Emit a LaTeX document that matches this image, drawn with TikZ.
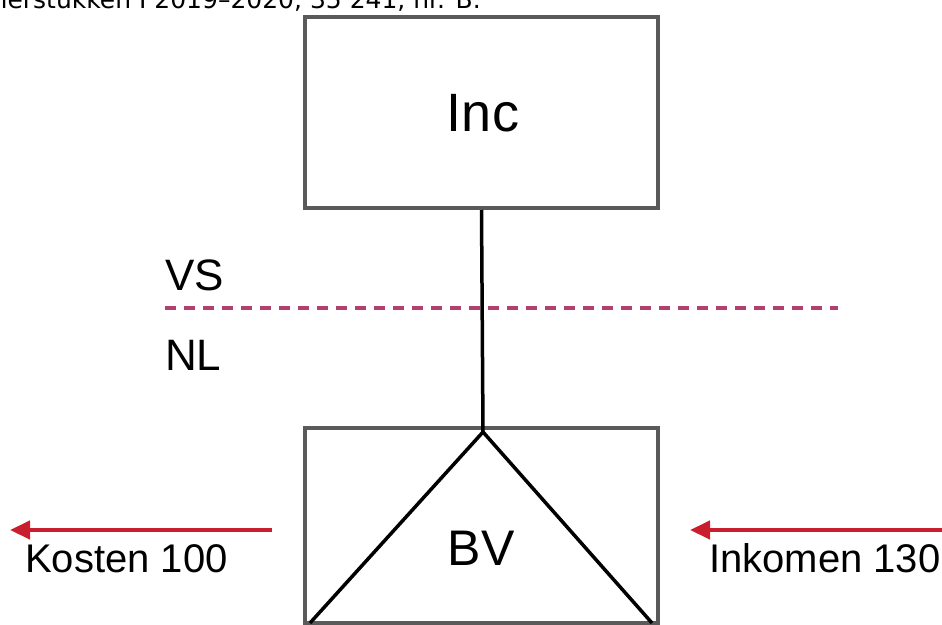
\documentclass[tikz,border=0pt]{standalone}
\usepackage{fontspec}
\setmainfont{Liberation Sans}
\newfontfamily\verd{DejaVu Sans}
\usetikzlibrary{arrows.meta}
\definecolor{boxgray}{HTML}{5A5A5A}
\definecolor{arrred}{HTML}{C81E2D}
\definecolor{dashpink}{HTML}{B0406E}
\begin{document}
\begin{tikzpicture}[x=1bp,y=-1bp,
  box/.style={draw=boxgray,line width=4bp,minimum width=353bp,inner sep=0pt},
  lbl/.style={inner sep=0pt,font=\fontsize{44bp}{50bp}\selectfont},
  side/.style={inner sep=0pt,font=\fontsize{40bp}{46bp}\selectfont},
  flow/.style={draw=arrred,line width=4.5bp,-{Triangle[length=20bp,width=18bp]}},
  link/.style={line width=3.5bp,black},
  border/.style={draw=dashpink,line width=3.5bp,dash pattern=on 11bp off 8bp}]
\useasboundingbox (0,0) rectangle (942,625);
\clip (0,0) rectangle (942,625);
% source line (cut off at the top)
\node[inner sep=0pt,anchor=base west,font=\verd\fontsize{25bp}{28bp}\selectfont] (src) at (-17,9) {merstukken I 2019–2020, 35 241, nr. B.};
% boxes
\node[box,minimum height=191bp] (inc) at (481.5,112.5) {};
\node[inner sep=0pt,anchor=base,font=\fontsize{54bp}{60bp}\selectfont] (inct) at (483,132) {Inc};
\node[box,minimum height=195bp] (bvbox) at (481.5,525.5) {};
% border line
\coordinate (dl) at (165,308);
\coordinate (dr) at (838,308);
\draw[border] (dl) -- (dr);
% triangle
\coordinate (apex) at (483,432);
\coordinate (bl) at (310,623);
\coordinate (br) at (652,623);
\draw[link,line join=miter] (bl) -- (apex) -- (br);
\draw[link] (inc.south) -- (apex);
\node[inner sep=0pt,anchor=base,font=\fontsize{50bp}{56bp}\selectfont] (bv) at (481,565) {BV};
% labels
\node[lbl,anchor=base west] (vs) at (165,290) {VS};
\node[lbl,anchor=base west] (nl) at (165,370) {NL};
% flows
\coordinate (ks) at (272,530);
\coordinate (ke) at (10,530);
\draw[flow] (ks) -- (ke);
\coordinate (is) at (946,530);
\coordinate (ie) at (690,530);
\draw[flow] (is) -- (ie);
\node[side,anchor=base west] (kosten) at (25,572) {Kosten 100};
\node[side,anchor=base west] (inkomen) at (709,572) {Inkomen 130};
\end{tikzpicture}
\end{document}
